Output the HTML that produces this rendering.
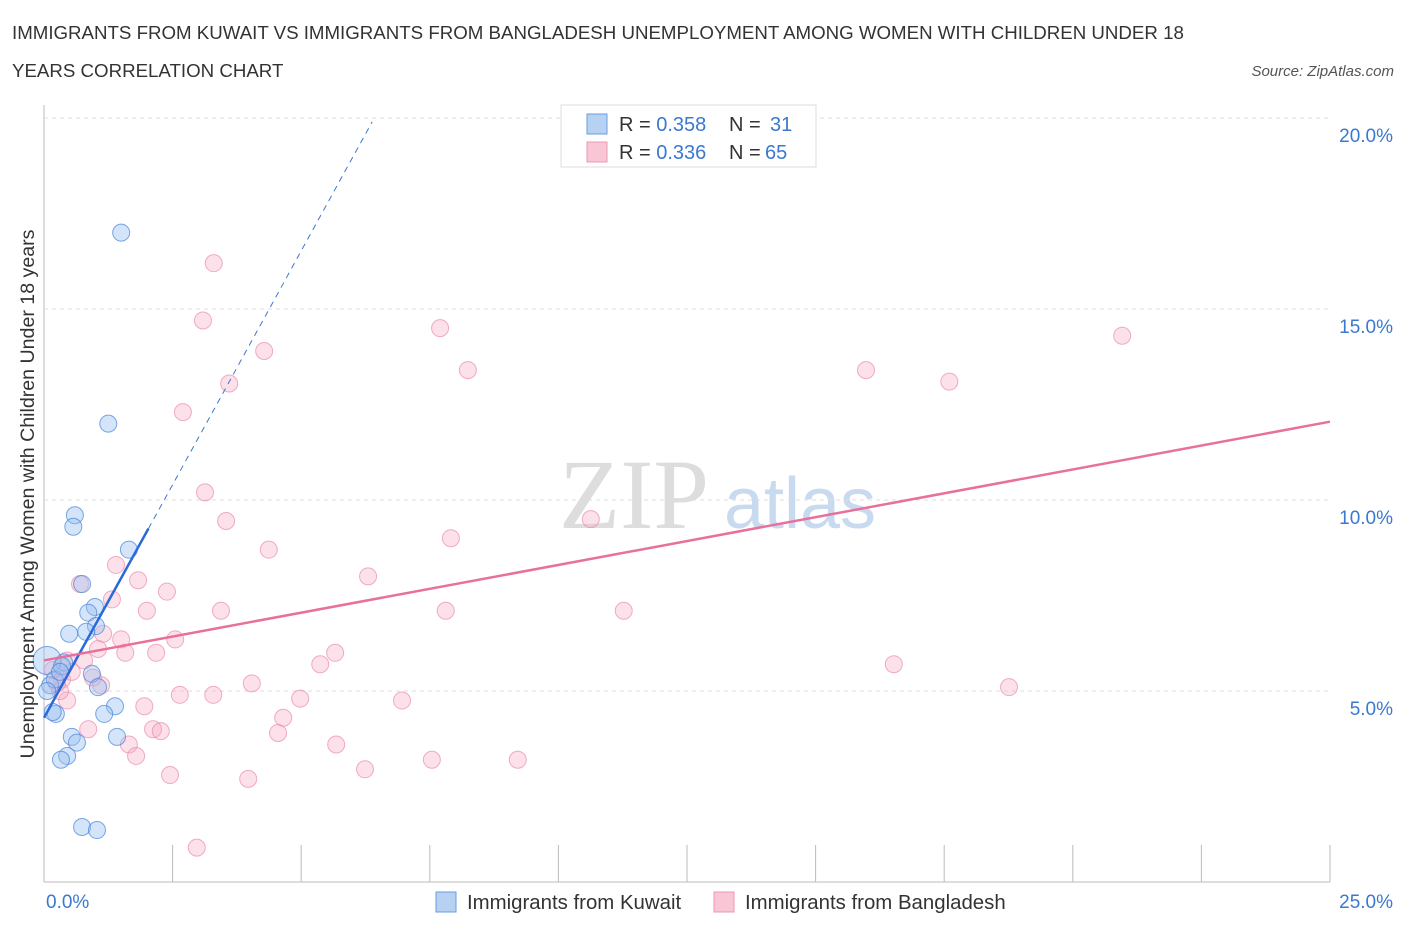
<!DOCTYPE html>
<html><head><meta charset="utf-8"><style>
body{margin:0;background:#fff;font-family:"Liberation Sans",sans-serif}
svg text{font-family:"Liberation Sans",sans-serif}
</style></head><body>
<svg id="c" width="1406" height="930">
<text x="12" y="39" font-size="18.7" fill="#333">IMMIGRANTS FROM KUWAIT VS IMMIGRANTS FROM BANGLADESH UNEMPLOYMENT AMONG WOMEN WITH CHILDREN UNDER 18</text>
<text x="12" y="77" font-size="18.7" fill="#333">YEARS CORRELATION CHART</text>
<text x="1394" y="76" font-size="15" fill="#555" font-style="italic" text-anchor="end">Source: ZipAtlas.com</text>
<text x="634" y="528" font-size="100" fill="#ddd" font-family="Liberation Serif" text-anchor="middle" style="font-family:'Liberation Serif',serif">ZIP</text>
<text x="800" y="528" font-size="72" fill="#c8daf0" text-anchor="middle">atlas</text>
<g id="grid"></g><g id="pts"></g><g id="lines"></g>
<text transform="translate(34,494) rotate(-90)" font-size="19.6" fill="#333" text-anchor="middle">Unemployment Among Women with Children Under 18 years</text>
<text x="46" y="908" font-size="19" fill="#3b78d0">0.0%</text>
<text x="1393" y="908" font-size="19" fill="#3b78d0" text-anchor="end">25.0%</text>
<g>
<rect x="561" y="105" width="255" height="62" fill="#fff" stroke="#ddd"/>
<rect x="587" y="114" width="20" height="20" fill="#b7d1f3" stroke="#6a9de0"/>
<rect x="587" y="142" width="20" height="20" fill="#f8c6d5" stroke="#eb98b2"/>
<text x="619" y="131" font-size="20" fill="#333">R = <tspan fill="#3b78d0">0.358</tspan></text>
<text x="729" y="131" font-size="20" fill="#333">N = <tspan fill="#3b78d0" x="770">31</tspan></text>
<text x="619" y="159" font-size="20" fill="#333">R = <tspan fill="#3b78d0">0.336</tspan></text>
<text x="729" y="159" font-size="20" fill="#333">N = <tspan fill="#3b78d0" x="765">65</tspan></text>
</g>
<g>
<rect x="436" y="892" width="20" height="20" fill="#b7d1f3" stroke="#6a9de0"/>
<text x="467" y="909" font-size="20.4" fill="#333">Immigrants from Kuwait</text>
<rect x="714" y="892" width="20" height="20" fill="#f8c6d5" stroke="#eb98b2"/>
<text x="745" y="909" font-size="20.4" fill="#333">Immigrants from Bangladesh</text>
</g>
</svg>
<script>
const yTicks=[5,10,15,20];
const xTicks=[0,2.5,5,7.5,10,12.5,15,17.5,20,22.5,25];
const kuwaitX=[1.5,1.25,0.6,0.57,1.65,0.74,0.99,0.86,1.01,0.82,0.49,0.39,0.93,1.05,1.38,1.17,0.23,0.17,0.54,0.64,0.45,0.33,1.42,0.74,1.03,0.06,0.12,0.21,0.35,0.06,0.31];
const kuwaitY=[17.0,12.0,9.6,9.3,8.7,7.8,7.2,7.05,6.7,6.55,6.5,5.75,5.45,5.1,4.6,4.4,4.4,4.45,3.8,3.65,3.3,3.2,3.8,1.44,1.36,5.8,5.15,5.3,5.65,5.0,5.5];
const bangX=[3.3,3.09,7.7,20.96,4.28,8.24,15.98,3.6,17.6,2.7,3.13,10.63,3.54,7.91,4.37,1.4,6.3,0.7,1.83,2.39,1.32,2.0,3.44,7.81,11.27,1.15,1.5,2.55,1.05,1.58,2.18,5.66,5.37,16.52,0.78,0.45,0.95,0.35,0.25,4.04,1.11,2.64,3.29,18.76,4.98,0.45,6.96,1.95,0.86,4.65,2.12,2.27,4.55,1.65,5.68,1.79,7.54,9.21,2.45,6.24,3.97,2.97,0.17,0.54,0.31];
const bangY=[16.2,14.7,14.5,14.3,13.9,13.4,13.4,13.05,13.1,12.3,10.2,9.5,9.45,9.0,8.7,8.3,8.0,7.8,7.9,7.6,7.4,7.1,7.1,7.1,7.1,6.5,6.35,6.35,6.1,6.0,6.0,6.0,5.7,5.7,5.8,5.8,5.35,5.3,5.2,5.2,5.15,4.9,4.9,5.1,4.8,4.75,4.75,4.6,4.0,4.3,4.0,3.95,3.9,3.6,3.6,3.3,3.2,3.2,2.8,2.95,2.7,0.9,5.55,5.5,5.0];
const kuwaitTrend=[0,4.3,2.03,9.25,6.38,19.9];
const bangTrend=[0,5.8,25,12.05];
const X=v=>44+v/25*1286, Y=v=>882-v/5*191;
const NS="http://www.w3.org/2000/svg";
function mk(t,a,p){const e=document.createElementNS(NS,t);for(const k in a)e.setAttribute(k,a[k]);p.appendChild(e);return e;}
const grid=document.getElementById('grid');
let ax=mk('line',{x1:44,y1:105,x2:44,y2:882,stroke:'#bbb'},grid);


let bx=mk('line',{x1:44,y1:882,x2:1330,y2:882,stroke:'#bbb'},grid);


yTicks.forEach(t=>{
 const g=mk('line',{x1:44,y1:Y(t),x2:1330,y2:Y(t),stroke:'#ddd','stroke-dasharray':'4,4'},grid);
 
 
 const l=mk('text',{x:1393,y:Y(t)+24,'font-size':19,fill:'#3b78d0','text-anchor':'end'},grid);
 l.textContent=t.toFixed(1)+'%';
 
 
});
xTicks.forEach(t=>{
 const g=mk('line',{x1:X(t),y1:845,x2:X(t),y2:882,stroke:'#bbb'},grid);
 
 
});
const pts=document.getElementById('pts');
bangX.forEach((x,i)=>{
 const c=mk('circle',{cx:X(x),cy:Y(bangY[i]),r:8.5,fill:'rgba(246,170,195,0.35)',stroke:'rgba(234,140,172,0.7)','stroke-width':1},pts);
 
 
});
kuwaitX.forEach((x,i)=>{
 const c=mk('circle',{cx:X(x),cy:Y(kuwaitY[i]),r:i==25?14:8.5,fill:'rgba(150,190,240,0.4)',stroke:'rgba(70,130,220,0.7)','stroke-width':1},pts);
 
 
});
const ln=document.getElementById('lines');
let a=mk('line',{x1:X(kuwaitTrend[2]),y1:Y(kuwaitTrend[3]),x2:X(kuwaitTrend[4]),y2:Y(kuwaitTrend[5]),stroke:'#3b78d0','stroke-width':1,'stroke-dasharray':'6,5'},ln);


let b=mk('line',{x1:X(kuwaitTrend[0]),y1:Y(kuwaitTrend[1]),x2:X(kuwaitTrend[2]),y2:Y(kuwaitTrend[3]),stroke:'#2a6ad8','stroke-width':2.5},ln);


let c=mk('line',{x1:X(bangTrend[0]),y1:Y(bangTrend[1]),x2:X(bangTrend[2]),y2:Y(bangTrend[3]),stroke:'#e8709a','stroke-width':2.5},ln);


</script>
</body></html>
